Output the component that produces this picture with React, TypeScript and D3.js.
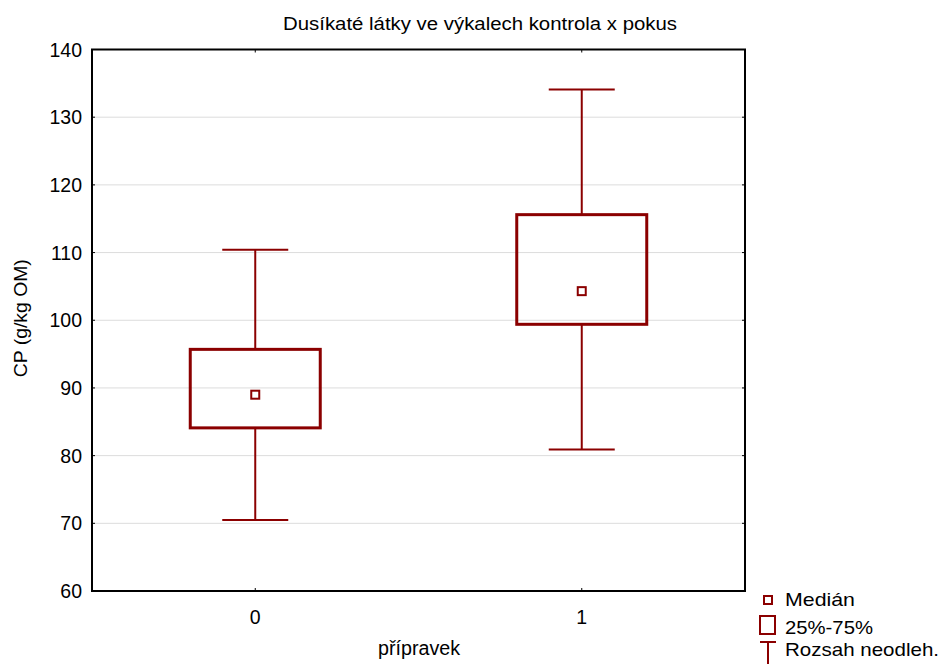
import React, { useRef, useEffect } from "react";
import * as d3 from "d3";

const groups = ["0", "1"];
const whiskerLow = [70.5, 80.9];
const boxLow = [84.1, 99.4];
const medians = [89.0, 104.3];
const boxHigh = [95.7, 115.6];
const whiskerHigh = [110.4, 134.1];
const yTicks = [60, 70, 80, 90, 100, 110, 120, 130, 140];
const legendLabels = ["Medián", "25%-75%", "Rozsah neodleh."];

const W = 943;
const H = 664;
const margin = { top: 49.5, right: 198, bottom: 73, left: 92 };
const RED = "#8b0000";
const FONT = "Liberation Sans, Arial, sans-serif";

const App = () => {
  const ref = useRef<SVGSVGElement>(null);

  useEffect(() => {
    const svg = d3.select(ref.current);
    svg.selectAll("*").remove();

    const x = d3
      .scaleLinear()
      .domain([-0.5, groups.length - 0.5])
      .range([margin.left, W - margin.right]);
    const y = d3
      .scaleLinear()
      .domain([60, 140])
      .range([H - margin.bottom, margin.top]);

    // grid
    svg
      .append("g")
      .selectAll("line")
      .data(yTicks.slice(1, -1))
      .enter()
      .append("line")
      .attr("x1", margin.left)
      .attr("x2", W - margin.right)
      .attr("y1", (d) => y(d))
      .attr("y2", (d) => y(d))
      .attr("stroke", "#dcdcdc")
      .attr("stroke-width", 1);

    // y tick labels + inner ticks
    const yg = svg.append("g");
    yTicks.forEach((t) => {
      yg.append("text")
        .attr("x", margin.left - 10)
        .attr("y", y(t))
        .attr("dy", "0.36em")
        .attr("text-anchor", "end")
        .attr("font-size", 19.5)
        .attr("font-family", FONT)
        .text(t);
      yg.append("line")
        .attr("x1", margin.left)
        .attr("x2", margin.left + 3)
        .attr("y1", y(t))
        .attr("y2", y(t))
        .attr("stroke", "#000");
      yg.append("line")
        .attr("x1", W - margin.right)
        .attr("x2", W - margin.right - 3)
        .attr("y1", y(t))
        .attr("y2", y(t))
        .attr("stroke", "#000");
    });

    // x ticks
    groups.forEach((g, i) => {
      svg
        .append("text")
        .attr("x", x(i))
        .attr("y", 624)
        .attr("text-anchor", "middle")
        .attr("font-size", 19.5)
        .attr("font-family", FONT)
        .text(g);
      svg
        .append("line")
        .attr("x1", x(i))
        .attr("x2", x(i))
        .attr("y1", H - margin.bottom)
        .attr("y2", H - margin.bottom - 3)
        .attr("stroke", "#000");
      svg
        .append("line")
        .attr("x1", x(i))
        .attr("x2", x(i))
        .attr("y1", margin.top)
        .attr("y2", margin.top + 3)
        .attr("stroke", "#000");
    });

    // boxes
    const boxW = 130;
    const capW = 66;
    const gb = svg.append("g");
    groups.forEach((g, i) => {
      const cx = x(i);
      gb.append("line")
        .attr("x1", cx)
        .attr("x2", cx)
        .attr("y1", y(whiskerHigh[i]))
        .attr("y2", y(boxHigh[i]))
        .attr("stroke", RED)
        .attr("stroke-width", 2);
      gb.append("line")
        .attr("x1", cx)
        .attr("x2", cx)
        .attr("y1", y(boxLow[i]))
        .attr("y2", y(whiskerLow[i]))
        .attr("stroke", RED)
        .attr("stroke-width", 2);
      [whiskerHigh[i], whiskerLow[i]].forEach((v) => {
        gb.append("line")
          .attr("x1", cx - capW / 2)
          .attr("x2", cx + capW / 2)
          .attr("y1", y(v))
          .attr("y2", y(v))
          .attr("stroke", RED)
          .attr("stroke-width", 2);
      });
      gb.append("rect")
        .attr("x", cx - boxW / 2)
        .attr("y", y(boxHigh[i]))
        .attr("width", boxW)
        .attr("height", y(boxLow[i]) - y(boxHigh[i]))
        .attr("fill", "none")
        .attr("stroke", RED)
        .attr("stroke-width", 3);
      gb.append("rect")
        .attr("x", cx - 4)
        .attr("y", y(medians[i]) - 4)
        .attr("width", 8)
        .attr("height", 8)
        .attr("fill", "#fff")
        .attr("stroke", RED)
        .attr("stroke-width", 2);
    });

    // frame
    svg
      .append("rect")
      .attr("x", margin.left)
      .attr("y", margin.top)
      .attr("width", W - margin.left - margin.right)
      .attr("height", H - margin.top - margin.bottom)
      .attr("fill", "none")
      .attr("stroke", "#000")
      .attr("stroke-width", 2);

    // titles
    svg
      .append("text")
      .attr("x", 480)
      .attr("y", 30)
      .attr("text-anchor", "middle")
      .attr("font-size", 17.5)
      .attr("font-family", FONT)
      .attr("textLength", 394)
      .attr("lengthAdjust", "spacingAndGlyphs")
      .text("Dusíkaté látky ve výkalech kontrola x pokus");
    svg
      .append("text")
      .attr("transform", `translate(27,${y(100.3)}) rotate(-90)`)
      .attr("text-anchor", "middle")
      .attr("font-size", 19)
      .attr("font-family", FONT)
      .attr("textLength", 118)
      .attr("lengthAdjust", "spacingAndGlyphs")
      .text("CP (g/kg OM)");
    svg
      .append("text")
      .attr("x", 419)
      .attr("y", 655)
      .attr("text-anchor", "middle")
      .attr("font-size", 19.5)
      .attr("font-family", FONT)
      .attr("textLength", 82)
      .attr("lengthAdjust", "spacingAndGlyphs")
      .text("přípravek");

    // legend
    const lg = svg.append("g");
    lg.append("rect")
      .attr("x", 764)
      .attr("y", 596)
      .attr("width", 8)
      .attr("height", 8)
      .attr("fill", "#fff")
      .attr("stroke", RED)
      .attr("stroke-width", 2);
    lg.append("rect")
      .attr("x", 760)
      .attr("y", 616)
      .attr("width", 15)
      .attr("height", 18)
      .attr("fill", "none")
      .attr("stroke", RED)
      .attr("stroke-width", 2);
    lg.append("line")
      .attr("x1", 760)
      .attr("x2", 776)
      .attr("y1", 642)
      .attr("y2", 642)
      .attr("stroke", RED)
      .attr("stroke-width", 2);
    lg.append("line")
      .attr("x1", 768)
      .attr("x2", 768)
      .attr("y1", 642)
      .attr("y2", 664)
      .attr("stroke", RED)
      .attr("stroke-width", 2);
    const legendW = [70, 88, 154];
    legendLabels.forEach((l, i) => {
      lg.append("text")
        .attr("x", 785)
        .attr("y", [606, 634, 656][i])
        .attr("font-size", 19)
        .attr("font-family", FONT)
        .attr("textLength", legendW[i])
        .attr("lengthAdjust", "spacingAndGlyphs")
        .text(l);
    });
  }, []);

  return (
    <svg
      ref={ref}
      width={W}
      height={H}
      style={{ position: "absolute", left: 0, top: 0, background: "#fff" }}
    ></svg>
  );
};

export default App;
